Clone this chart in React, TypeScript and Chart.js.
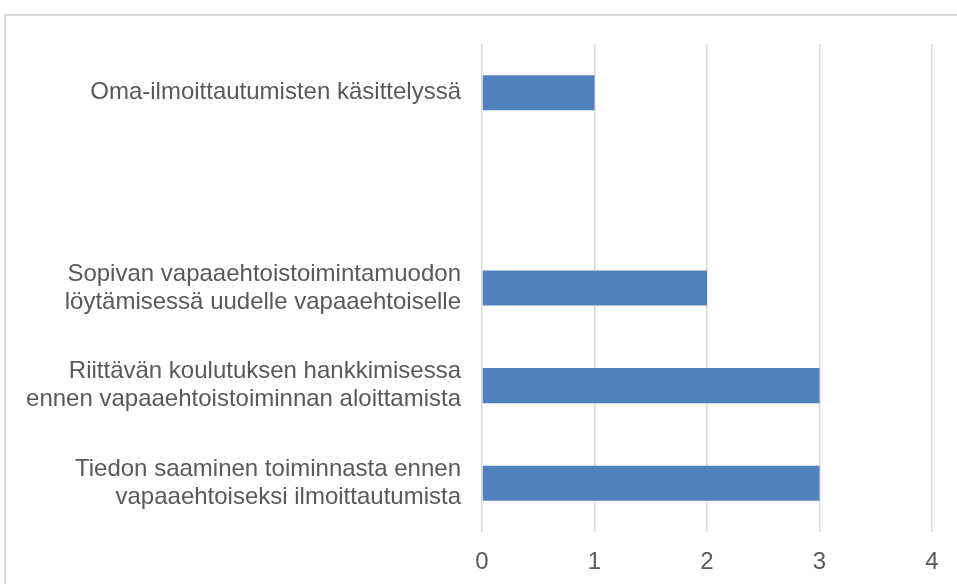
import React, { useEffect, useRef } from "react";
import { Chart, registerables } from "chart.js";

Chart.register(...registerables);

const categories: (string | string[])[] = [
  "Oma-ilmoittautumisten käsittelyssä",
  "",
  ["Sopivan vapaaehtoistoimintamuodon", "löytämisessä uudelle vapaaehtoiselle"],
  ["Riittävän koulutuksen hankkimisessa", "ennen vapaaehtoistoiminnan aloittamista"],
  ["Tiedon saaminen toiminnasta ennen", "vapaaehtoiseksi ilmoittautumista"],
];
const values: (number | null)[] = [1, null, 2, 3, 3];
const xTicks = [0, 1, 2, 3, 4];

export default function App() {
  const ref = useRef<HTMLCanvasElement | null>(null);
  useEffect(() => {
    document.body.style.margin = "0";
    document.body.style.overflow = "hidden";
    const ctx = ref.current!;
    const chart = new Chart(ctx, {
      type: "bar",
      data: {
        labels: categories,
        datasets: [
          {
            data: values,
            backgroundColor: "#4F81BD",
            borderWidth: 0,
            barPercentage: 0.72,
            categoryPercentage: 0.5,
          },
        ],
      },
      options: {
        indexAxis: "y",
        animation: false,
        responsive: false,
        maintainAspectRatio: false,
        layout: { padding: { top: 44, right: 25, left: 0, bottom: 0 } },
        plugins: { legend: { display: false }, tooltip: { enabled: false } },
        scales: {
          x: {
            min: 0,
            max: 4,
            afterBuildTicks: (s: any) => {
              s.ticks = xTicks.map((v) => ({ value: v }));
            },
            afterFit: (s: any) => {
              s.height = 52;
              s.paddingLeft = 0;
              s.paddingRight = 0;
            },
            grid: { color: "#d9d9d9", lineWidth: 1.5, drawTicks: false },
            border: { display: false },
            ticks: {
              padding: 16,
              color: "#595959",
              font: { family: "Liberation Sans, Arial, sans-serif", size: 24 },
            },
          },
          y: {
            afterFit: (s: any) => {
              s.width = 482;
              s.paddingTop = 0;
              s.paddingBottom = 0;
            },
            grid: { display: false, drawTicks: false },
            border: { display: false },
            ticks: {
              padding: 21,
              color: "#595959",
              font: { family: "Liberation Sans, Arial, sans-serif", size: 24, lineHeight: 1.17 },
            },
          },
        },
      },
    });
    return () => chart.destroy();
  }, []);
  return (
    <div style={{ position: "fixed", left: 0, top: 0, width: 957, height: 584, overflow: "hidden", background: "#fff" }}>
      <div
        style={{
          position: "absolute",
          left: 4,
          top: 14,
          width: 1100,
          height: 700,
          border: "2px solid #d9d9d9",
          boxSizing: "border-box",
        }}
      />
      <canvas ref={ref} width={957} height={584} style={{ position: "absolute", left: 0, top: 0, display: "block" }} />
    </div>
  );
}
